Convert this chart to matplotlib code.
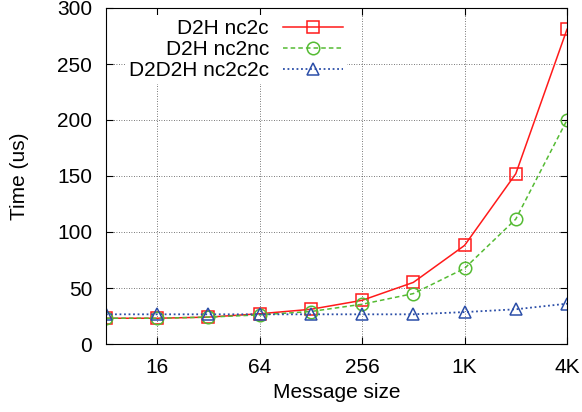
import matplotlib
matplotlib.use("Agg")
import matplotlib.pyplot as plt

plt.rcParams['font.family'] = ['Liberation Sans', 'DejaVu Sans']
plt.rcParams['font.size'] = 15

sizes = [8, 16, 32, 64, 128, 256, 512, 1024, 2048, 4096]
d2h_nc2c = [23, 23, 24, 27, 31, 39, 55, 88, 152, 281]
d2h_nc2nc = [23, 23, 24, 26, 29, 35.5, 45, 67.5, 111.5, 200]
d2d2h_nc2c2c = [26.5, 26.5, 26.5, 26.5, 26.5, 26.5, 26.5, 28.5, 31, 36]

xticks = [16, 64, 256, 1024, 4096]
xticklabels = ['16', '64', '256', '1K', '4K']
yticks = [0, 50, 100, 150, 200, 250, 300]

fig = plt.figure(figsize=(5.82, 4.12), dpi=100)
ax = fig.add_axes([106 / 582, 1 - 344 / 412, (567 - 106) / 582, (344 - 8) / 412])

ax.plot(sizes, d2h_nc2c, color='#ff1a1a', linestyle='-', linewidth=1.1,
        marker='s', markersize=9, markerfacecolor='none', markeredgecolor='#ff1a1a',
        markeredgewidth=1.1, label='D2H nc2c')
ax.plot(sizes, d2h_nc2nc, color='#55bb33', linestyle=(0, (3, 2)), linewidth=1.1,
        marker='o', markersize=9, markerfacecolor='none', markeredgecolor='#55bb33',
        markeredgewidth=1.1, label='D2H nc2nc')
ax.plot(sizes, d2d2h_nc2c2c, color='#2b4ea8', linestyle=(0, (1, 1.5)), linewidth=1.3,
        marker='^', markersize=9, markerfacecolor='none', markeredgecolor='#2b4ea8',
        markeredgewidth=1.1, label='D2D2H nc2c2c')

ax.set_xscale('log', base=2)
ax.set_xlim(8, 4096)
ax.set_ylim(0, 300)
ax.set_xticks(xticks)
ax.set_xticklabels(xticklabels)
ax.minorticks_off()
ax.set_yticks(yticks)
ax.tick_params(direction='in', top=True, right=True, length=5, pad=10)
ax.grid(True, color='black', linestyle=(0, (1, 2)), linewidth=0.6, alpha=0.7)

ax.set_xlabel('Message size', va='center')
ax.xaxis.set_label_coords(0.5, -49 / 336)
ax.set_ylabel('Time (us)', va='center')
ax.yaxis.set_label_coords(-86 / 461, 0.5)

leg = ax.legend(loc='upper right', bbox_to_anchor=(0.523, 0.98), frameon=True,
                fancybox=False, facecolor='white', edgecolor='none', framealpha=1.0,
                markerfirst=False, handlelength=2.9, labelspacing=0.1,
                borderaxespad=0.0, borderpad=0.2, handletextpad=0.65)

plt.savefig('out.png', dpi=100)
plt.close()
